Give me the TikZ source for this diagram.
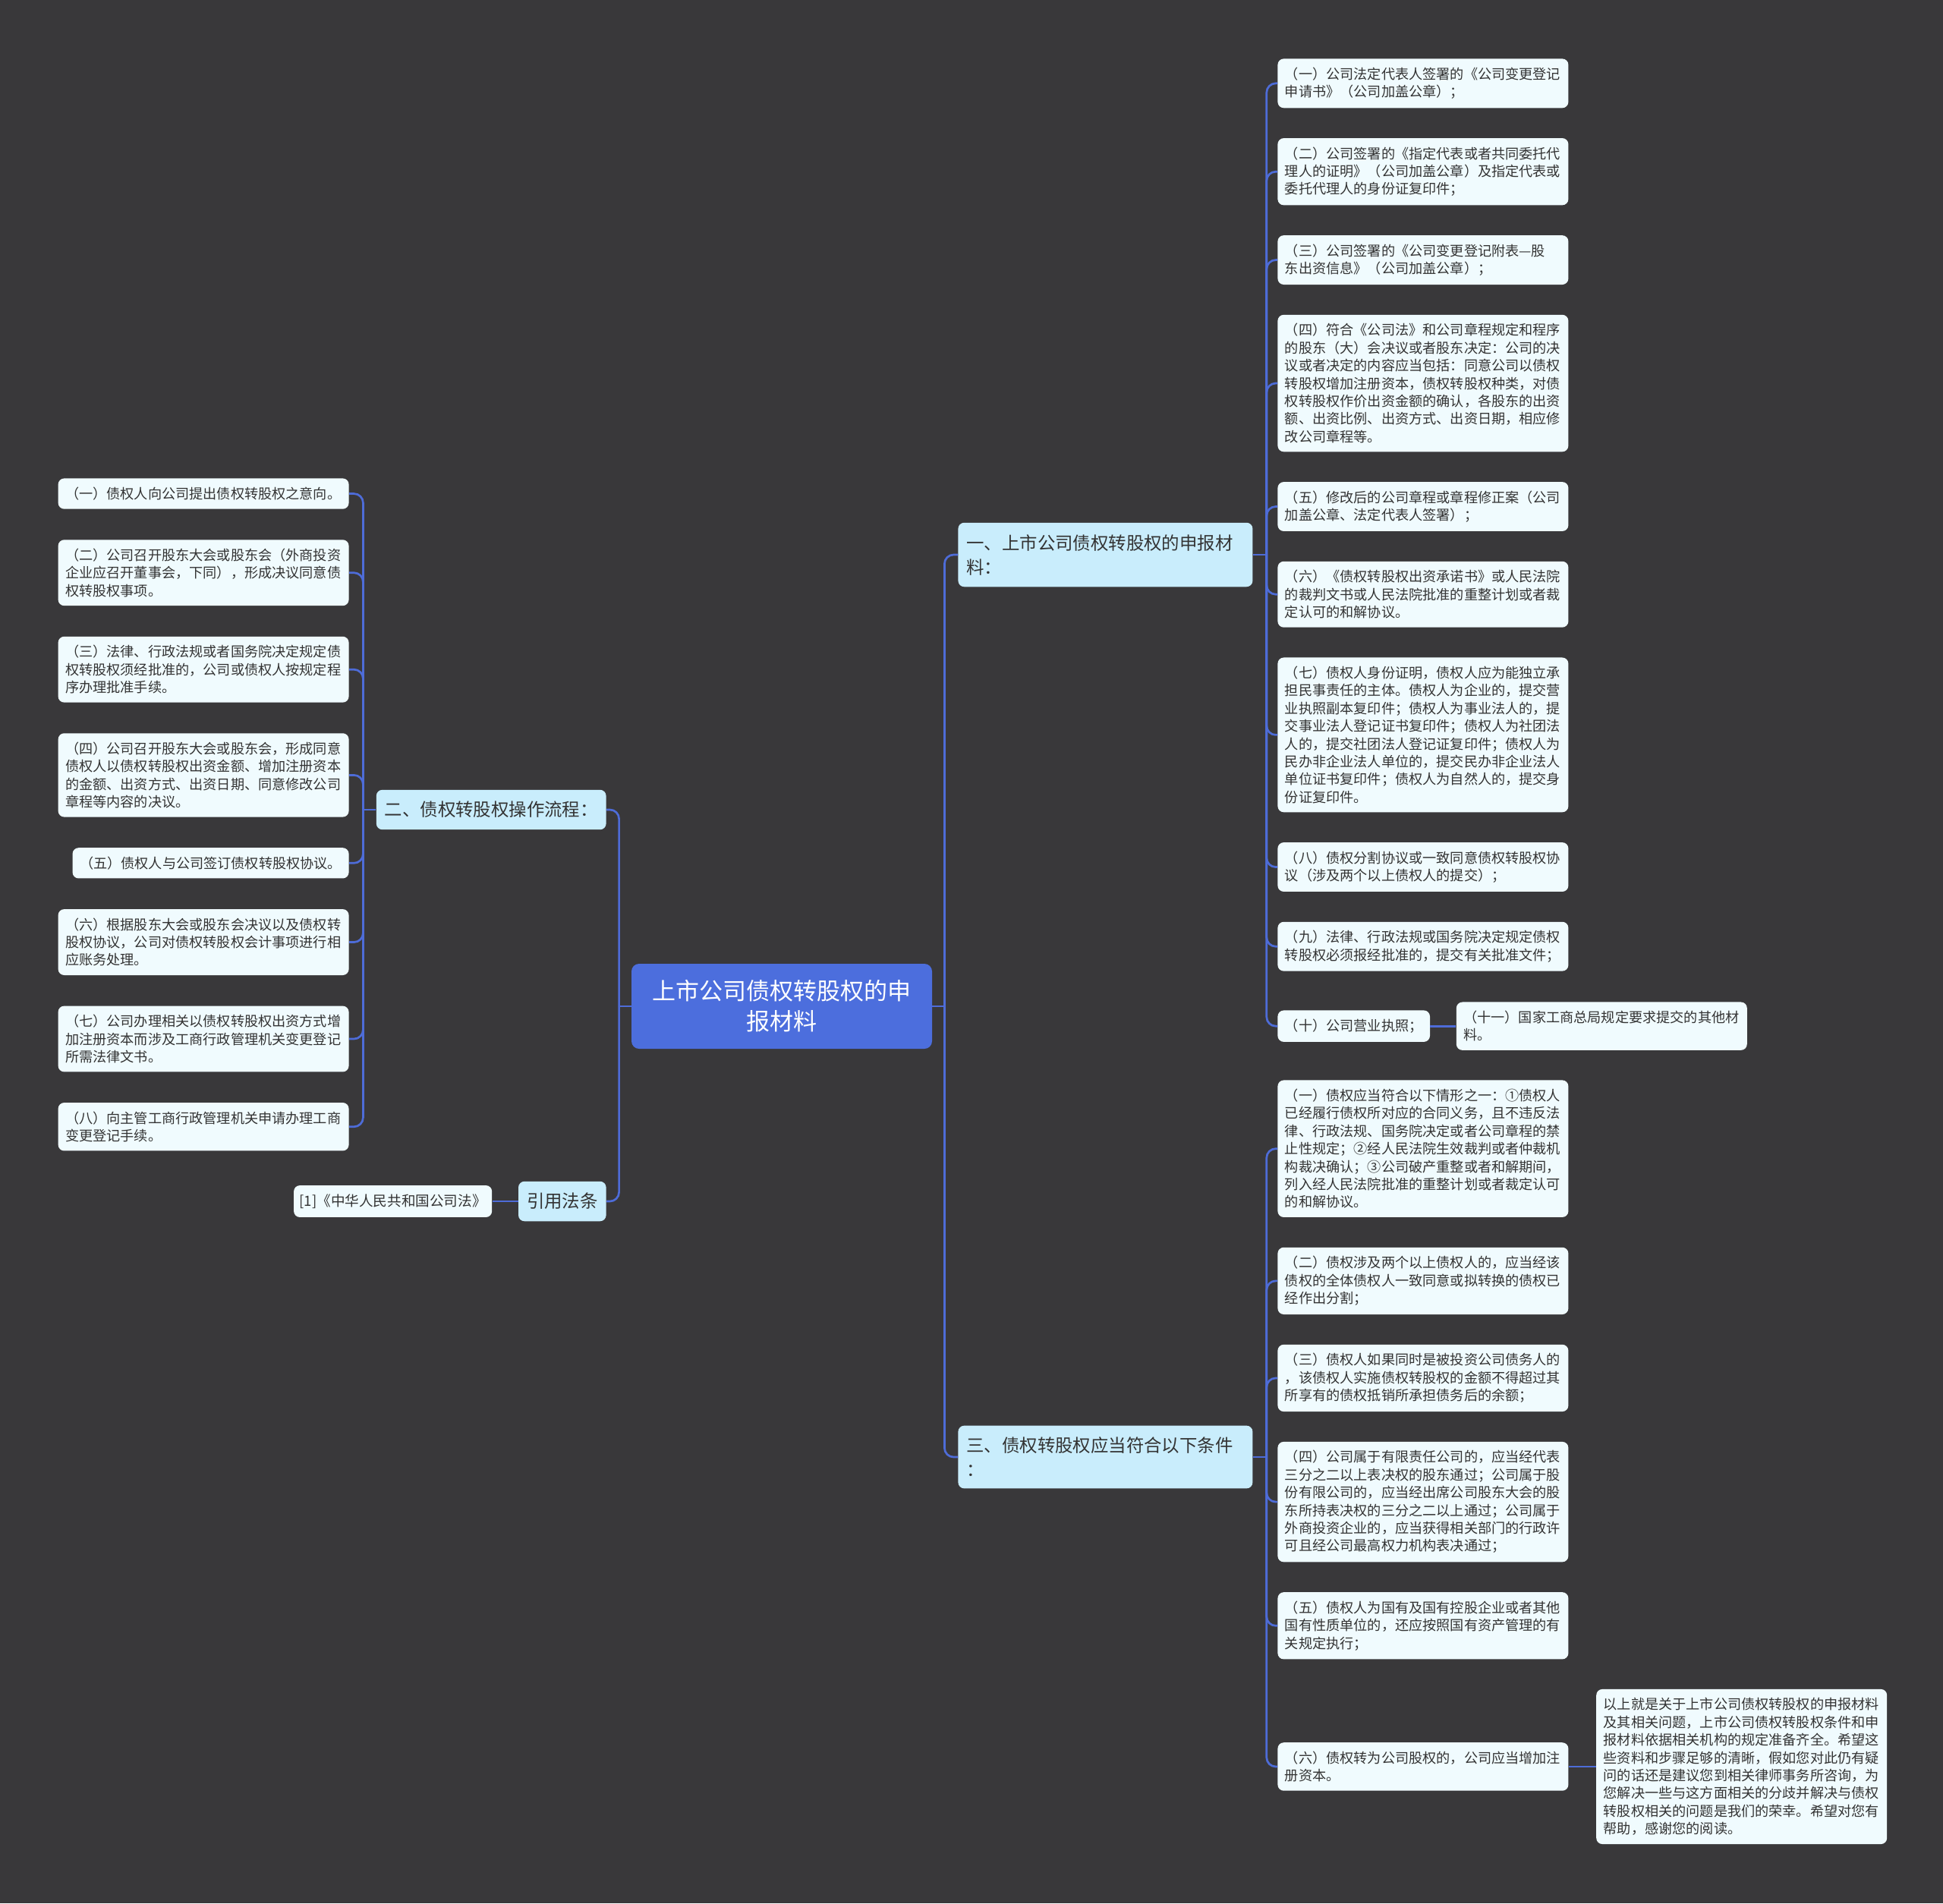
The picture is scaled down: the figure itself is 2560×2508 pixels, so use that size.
\documentclass[tikz,border=0pt]{standalone}
\usepackage{fontspec}
\setmainfont{Noto Sans CJK SC}
\usetikzlibrary{positioning}
\definecolor{bg}{RGB}{57,56,58}
\definecolor{hubc}{RGB}{76,110,221}
\definecolor{secc}{RGB}{201,237,252}
\definecolor{itemc}{RGB}{240,251,254}
\definecolor{wire}{RGB}{78,108,216}
\definecolor{ink}{RGB}{51,51,51}

\begin{document}
\begin{tikzpicture}[x=0.5pt,y=-0.5pt,
  hubbox/.style={fill=hubc,rounded corners=5pt,text=white,font=\fontsize{15.5}{20}\selectfont,align=center,inner xsep=13.75pt,inner ysep=10.8pt},
  secbox/.style={fill=secc,rounded corners=4pt,text=ink,font=\fontsize{11.7}{16}\selectfont,align=left,inner xsep=5.5pt,inner ysep=7.7pt},
  wsecbox/.style={secbox,text width=183pt},
  itembox/.style={fill=itemc,rounded corners=4pt,text=ink,font=\fontsize{9.08}{11.7}\selectfont,align=left,inner xsep=4.75pt,inner ysep=5.75pt},
  witembox/.style={itembox,text width=182pt},
  link/.style={draw=wire,line width=1.35pt,rounded corners=6pt}]
\fill[bg] (0,0) rectangle (2560,2508);
\node[hubbox] (hub) at (1030,1326) {上市公司债权转股权的申\\报材料};
\node[wsecbox,anchor=west] (mat) at (1262,731) {一、上市公司债权转股权的申报材\\料：};
\node[wsecbox,anchor=west] (cond) at (1262,1920) {三、债权转股权应当符合以下条件\\：};
\node[secbox,anchor=east] (flow) at (799,1067) {二、债权转股权操作流程：};
\node[secbox,anchor=east] (law) at (799,1583) {引用法条};
\node[itembox,left=17pt of law,font=\fontsize{9.3}{12}\selectfont,inner xsep=3.75pt] (lawref) {[1]《中华人民共和国公司法》};

\node[witembox,anchor=north west] (m1) at (1683,77) {（一）公司法定代表人签署的《公司变更登记\\申请书》（公司加盖公章）；};
\node[witembox,below=19.5pt of m1.south west,anchor=north west] (m2) {（二）公司签署的《指定代表或者共同委托代\\理人的证明》（公司加盖公章）及指定代表或\\委托代理人的身份证复印件；};
\node[witembox,below=19.5pt of m2.south west,anchor=north west] (m3) {（三）公司签署的《公司变更登记附表—股\\东出资信息》（公司加盖公章）；};
\node[witembox,below=19.5pt of m3.south west,anchor=north west] (m4) {（四）符合《公司法》和公司章程规定和程序\\的股东（大）会决议或者股东决定：公司的决\\议或者决定的内容应当包括：同意公司以债权\\转股权增加注册资本，债权转股权种类，对债\\权转股权作价出资金额的确认，各股东的出资\\额、出资比例、出资方式、出资日期，相应修\\改公司章程等。};
\node[witembox,below=19.5pt of m4.south west,anchor=north west] (m5) {（五）修改后的公司章程或章程修正案（公司\\加盖公章、法定代表人签署）；};
\node[witembox,below=19.5pt of m5.south west,anchor=north west] (m6) {（六）《债权转股权出资承诺书》或人民法院\\的裁判文书或人民法院批准的重整计划或者裁\\定认可的和解协议。};
\node[witembox,below=19.5pt of m6.south west,anchor=north west] (m7) {（七）债权人身份证明，债权人应为能独立承\\担民事责任的主体。债权人为企业的，提交营\\业执照副本复印件；债权人为事业法人的，提\\交事业法人登记证书复印件；债权人为社团法\\人的，提交社团法人登记证复印件；债权人为\\民办非企业法人单位的，提交民办非企业法人\\单位证书复印件；债权人为自然人的，提交身\\份证复印件。};
\node[witembox,below=19.5pt of m7.south west,anchor=north west] (m8) {（八）债权分割协议或一致同意债权转股权协\\议（涉及两个以上债权人的提交）；};
\node[witembox,below=19.5pt of m8.south west,anchor=north west] (m9) {（九）法律、行政法规或国务院决定规定债权\\转股权必须报经批准的，提交有关批准文件；};
\node[itembox,below=25.5pt of m9.south west,anchor=north west] (m10) {（十）公司营业执照；};
\node[witembox,right=17pt of m10] (m11) {（十一）国家工商总局规定要求提交的其他材\\料。};

\node[witembox,anchor=north west] (c1) at (1683,1423) {（一）债权应当符合以下情形之一：①债权人\\已经履行债权所对应的合同义务，且不违反法\\律、行政法规、国务院决定或者公司章程的禁\\止性规定；②经人民法院生效裁判或者仲裁机\\构裁决确认；③公司破产重整或者和解期间，\\列入经人民法院批准的重整计划或者裁定认可\\的和解协议。};
\node[witembox,below=19.5pt of c1.south west,anchor=north west] (c2) {（二）债权涉及两个以上债权人的，应当经该\\债权的全体债权人一致同意或拟转换的债权已\\经作出分割；};
\node[witembox,below=19.5pt of c2.south west,anchor=north west] (c3) {（三）债权人如果同时是被投资公司债务人的\\，该债权人实施债权转股权的金额不得超过其\\所享有的债权抵销所承担债务后的余额；};
\node[witembox,below=19.5pt of c3.south west,anchor=north west] (c4) {（四）公司属于有限责任公司的，应当经代表\\三分之二以上表决权的股东通过；公司属于股\\份有限公司的，应当经出席公司股东大会的股\\东所持表决权的三分之二以上通过；公司属于\\外商投资企业的，应当获得相关部门的行政许\\可且经公司最高权力机构表决通过；};
\node[witembox,below=19.5pt of c4.south west,anchor=north west] (c5) {（五）债权人为国有及国有控股企业或者其他\\国有性质单位的，还应按照国有资产管理的有\\关规定执行；};
\node[witembox,below=54.5pt of c5.south west,anchor=north west] (c6) {（六）债权转为公司股权的，公司应当增加注\\册资本。};
\node[witembox,right=18pt of c6] (note) {以上就是关于上市公司债权转股权的申报材料\\及其相关问题，上市公司债权转股权条件和申\\报材料依据相关机构的规定准备齐全。希望这\\些资料和步骤足够的清晰，假如您对此仍有疑\\问的话还是建议您到相关律师事务所咨询，为\\您解决一些与这方面相关的分歧并解决与债权\\转股权相关的问题是我们的荣幸。希望对您有\\帮助，感谢您的阅读。};

\node[witembox,anchor=north east] (f1) at (460,630) {（一）债权人向公司提出债权转股权之意向。};
\node[witembox,below=19.9pt of f1.south east,anchor=north east] (f2) {（二）公司召开股东大会或股东会（外商投资\\企业应召开董事会，下同），形成决议同意债\\权转股权事项。};
\node[witembox,below=19.9pt of f2.south east,anchor=north east] (f3) {（三）法律、行政法规或者国务院决定规定债\\权转股权须经批准的，公司或债权人按规定程\\序办理批准手续。};
\node[witembox,below=19.9pt of f3.south east,anchor=north east] (f4) {（四）公司召开股东大会或股东会，形成同意\\债权人以债权转股权出资金额、增加注册资本\\的金额、出资方式、出资日期、同意修改公司\\章程等内容的决议。};
\node[itembox,below=19.9pt of f4.south east,anchor=north east] (f5) {（五）债权人与公司签订债权转股权协议。};
\node[witembox,below=19.9pt of f5.south east,anchor=north east] (f6) {（六）根据股东大会或股东会决议以及债权转\\股权协议，公司对债权转股权会计事项进行相\\应账务处理。};
\node[witembox,below=19.9pt of f6.south east,anchor=north east] (f7) {（七）公司办理相关以债权转股权出资方式增\\加注册资本而涉及工商行政管理机关变更登记\\所需法律文书。};
\node[witembox,below=19.9pt of f7.south east,anchor=north east] (f8) {（八）向主管工商行政管理机关申请办理工商\\变更登记手续。};

\draw[link] (hub.east) -- ++(8pt,0) coordinate (hj); \draw[link] (hj) |- (mat.west); \draw[link] (hj) |- (cond.west);
\draw[link] (hub.west) -- ++(-8pt,0) coordinate (lj); \draw[link] (lj) |- (flow.east); \draw[link] (lj) |- (law.east);
\draw[link] (mat.east) -- ++(9pt,0) coordinate (mj);
\foreach \i in {1,...,10} \draw[link] (mj) |- (m\i.west);
\draw[link] (m10) -- (m11);
\draw[link] (cond.east) -- ++(9pt,0) coordinate (cj);
\foreach \i in {1,...,6} \draw[link] (cj) |- (c\i.west);
\draw[link] (c6) -- (note);
\draw[link] (flow.west) -- ++(-8.5pt,0) coordinate (fj);
\foreach \i in {1,...,8} \draw[link] (fj) |- (f\i.east);
\draw[link] (law) -- (lawref);
\end{tikzpicture}
\end{document}
